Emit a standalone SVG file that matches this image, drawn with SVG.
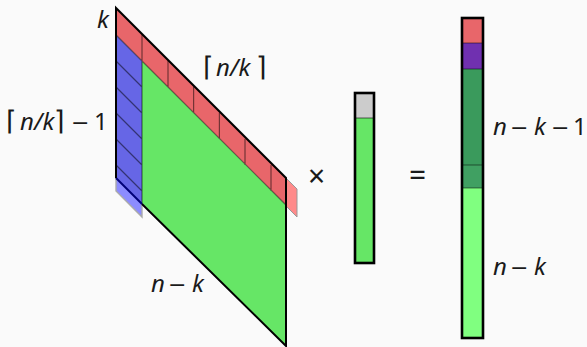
<svg xmlns="http://www.w3.org/2000/svg" width="587" height="347" viewBox="0 0 587 347">
<style>
text{font-family:"Noto Sans","Open Sans",sans-serif;font-size:24px;fill:#1a1a1a}
.i{font-style:italic}
.m{font-family:"DejaVu Sans",sans-serif;font-size:22px;font-style:normal}
.c{font-family:"DejaVu Sans",sans-serif;font-size:27px;font-weight:200}
.b{font-size:30px}
.g{stroke:#000;stroke-opacity:.5;stroke-width:1.2;fill:none}
.o{stroke:#000;stroke-width:2;fill:none;stroke-linejoin:miter}
.t{stroke:#000;stroke-width:2.6;fill:none}
</style>
<rect width="587" height="347" fill="#fafafa"/>
<g id="matrix">
<polygon points="286,178 297,189 297,217 286,206" fill="#ff8a8a" stroke="#999" stroke-width="1"/>
<polygon points="116,178 142,204 142,217 116,191" fill="#8c8cff" stroke="#aaa" stroke-width="1.4"/>
<polygon points="142,61 286,205 286,346 142,203" fill="#66e666"/>
<polygon points="116,8 286,178 286,205 142,61 116,35" fill="#e8666a"/>
<polygon points="116,35 142,61 142,204 116,178" fill="#6666e6"/>
<path class="g" d="M116,35L286,205M142,35V204M168,61V87M193.6,87V113M219.4,113V139M245,139V165M271,165V191M116,61L142,87M116,87L142,113M116,113L142,139M116,139L142,165M116,165L142,191"/>
<path d="M116,178L142,204" stroke="#00007a" stroke-width="2" fill="none"/>
<path class="o" d="M116,178V8L286,178V346L142,204"/>
</g>
<g id="vector">
<rect x="355" y="93" width="19" height="25" fill="#cccccc"/>
<rect x="355" y="118" width="19" height="145" fill="#66e666"/>
<path class="g" d="M355,118H374"/>
<rect class="t" x="355" y="93" width="19" height="170"/>
</g>
<g id="result">
<rect x="462" y="18" width="21" height="25" fill="#e8666a"/>
<rect x="462" y="43" width="21" height="26" fill="#7030b0"/>
<rect x="462" y="69" width="21" height="96" fill="#3a9a5c"/>
<rect x="462" y="165" width="21" height="23" fill="#40a062"/>
<rect x="462" y="188" width="21" height="150" fill="#80ff80"/>
<path class="g" d="M462,43H483M462,69H483M462,165H483M462,188H483"/>
<rect class="t" x="462" y="18" width="21" height="320"/>
</g>
<g id="labels">
<text class="i" x="97" y="28">k</text>
<text x="203" y="76"><tspan class="c">⌈</tspan><tspan class="i" x="216">n/k</tspan><tspan class="c" x="256">⌉</tspan></text>
<text x="6" y="130"><tspan class="c">⌈</tspan><tspan class="i" x="20">n/k</tspan><tspan class="c" x="54">⌉</tspan><tspan class="m" x="71">−</tspan><tspan x="94">1</tspan></text>
<text x="151" y="292"><tspan class="i">n</tspan><tspan class="m" x="168">−</tspan><tspan class="i" x="192">k</tspan></text>
<text class="b" x="308" y="187">×</text>
<text class="b" x="409" y="186">=</text>
<text x="493" y="135"><tspan class="i">n</tspan><tspan class="m" x="510">−</tspan><tspan class="i" x="534">k</tspan><tspan class="m" x="551">−</tspan><tspan x="573">1</tspan></text>
<text x="493" y="275"><tspan class="i">n</tspan><tspan class="m" x="510">−</tspan><tspan class="i" x="534">k</tspan></text>
</g>
</svg>
